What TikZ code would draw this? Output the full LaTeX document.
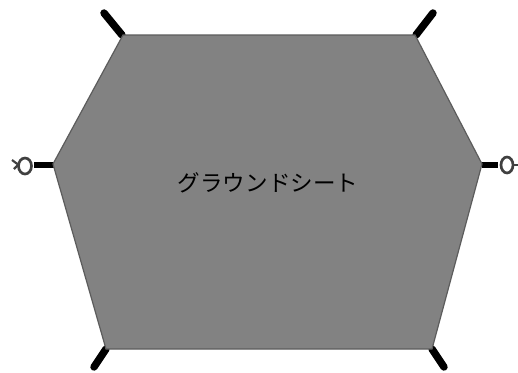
\documentclass[tikz,border=0pt]{standalone}
\usepackage{fontspec}
\newfontfamily\cjk{Noto Sans CJK JP}[Scale=1]
\tikzset{
  sheet/.style={fill=sheetgray,draw=edgegray,line width=0.9pt,line join=miter},
  pole/.style={draw=black,line width=5.6pt,line cap=round},
  bar/.style={draw=black,line width=5pt},
  ring/.style={draw=ringgray,line width=2pt,fill=white},
  tail/.style={draw=ringgray,line width=1.6pt},
  sheetlabel/.style={font=\cjk\fontsize{16.9}{17}\selectfont,text=black,inner sep=0pt}
}
\definecolor{sheetgray}{gray}{0.51}
\definecolor{edgegray}{gray}{0.36}
\definecolor{ringgray}{gray}{0.25}
\begin{document}
\begin{tikzpicture}[x=0.75pt,y=-0.75pt]
\useasboundingbox (0,0) rectangle (518,372);
\fill[white] (0,0) rectangle (518,372);
% guy-lines
\draw[pole] (104,13) -- (122,35);
\draw[pole] (433,13) -- (416,35);
\draw[pole] (94,367) -- (106,349);
\draw[pole] (444,367) -- (432,349);
% loops
\draw[bar] (34,165) -- (54,165);
\draw[bar] (482,165) -- (498,165);
\draw[tail] (12,160) -- (20,166);
\draw[tail] (14,169) -- (20,163);
\draw[tail] (513,165) -- (518,165);
\draw[ring] (25,166) ellipse [x radius=6.5,y radius=8];
\draw[ring] (507,165) ellipse [x radius=6,y radius=8];
% sheet
\draw[sheet] (123,35) -- (415,35) -- (482,164) -- (432,349) -- (106,349) -- (53,164) -- cycle;
\node[sheetlabel] (label) at (268,183) {グラウンドシート};
\end{tikzpicture}
\end{document}
